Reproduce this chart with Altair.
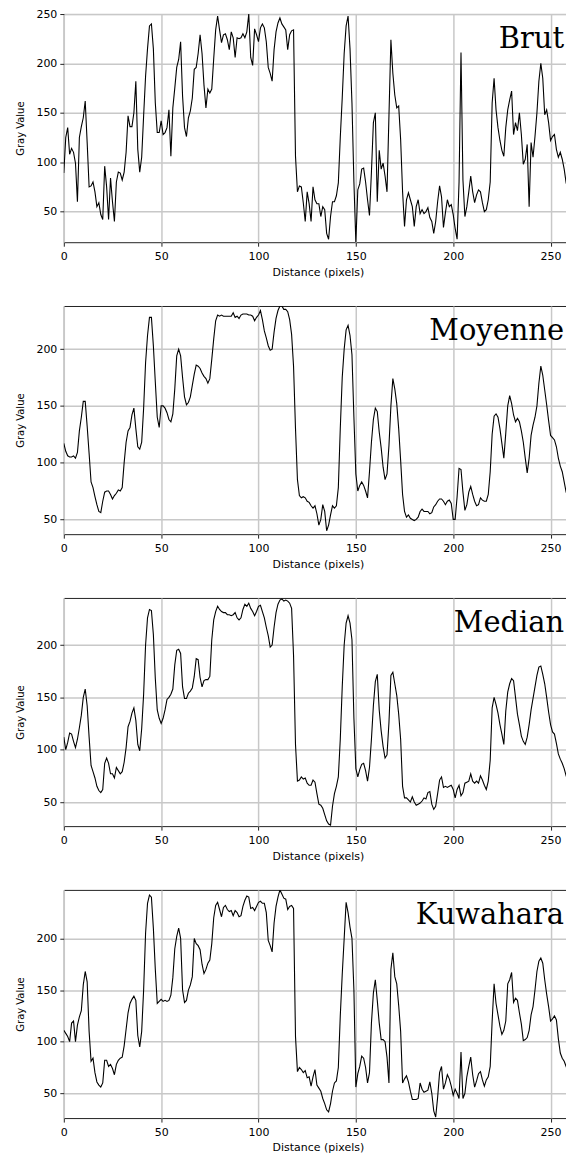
import altair as alt
import pandas as pd

TITLES = ["Brut", "Moyenne", "Median", "Kuwahara"]
X_TICKS = [0, 50, 100, 150, 200, 250]
Y_TICKS = [50, 100, 150, 200, 250]
X_DOMAIN = [0, 261]
Y_DOMAINS = [[19, 250], [37, 238], [27, 245], [26, 247]]

brut = [
    89, 125, 135, 108, 114, 110, 99, 60, 125, 136,
    145, 162, 120, 75, 76, 80, 70, 55, 59, 47,
    42, 96, 75, 42, 84, 60, 40, 80, 90, 89,
    82, 90, 110, 147, 136, 136, 150, 182, 113, 90,
    105, 147, 187, 215, 238, 240, 215, 160, 130, 130,
    142, 128, 130, 135, 153, 106, 155, 175, 196, 204,
    222, 167, 135, 126, 145, 152, 165, 194, 196, 210,
    229, 210, 178, 155, 174, 170, 174, 205, 234, 248,
    234, 221, 229, 230, 224, 214, 232, 226, 206, 226,
    225, 226, 230, 226, 232, 250, 206, 198, 235, 229,
    222, 236, 240, 236, 222, 196, 190, 182, 214, 232,
    241, 246, 240, 237, 234, 214, 229, 233, 234, 106,
    70, 76, 75, 59, 40, 70, 58, 40, 75, 62,
    58, 58, 45, 55, 52, 28, 22, 45, 60, 60,
    66, 79, 125, 165, 210, 238, 248, 215, 160, 80,
    19, 72, 78, 93, 94, 80, 62, 46, 90, 140,
    150, 60, 112, 93, 99, 86, 70, 147, 224, 190,
    168, 155, 157, 123, 70, 35, 62, 69, 62, 55,
    35, 55, 62, 48, 52, 48, 50, 54, 44, 40,
    28, 40, 60, 76, 65, 34, 49, 62, 55, 57,
    47, 33, 22, 80, 211, 82, 45, 55, 70, 86,
    70, 59, 67, 72, 70, 59, 50, 52, 62, 80,
    160, 185, 153, 135, 122, 112, 106, 135, 153, 163,
    172, 128, 140, 132, 150, 128, 98, 103, 118, 55,
    120, 105, 126, 150, 182, 200, 185, 148, 153, 140,
    122, 126, 128, 113, 105, 110, 103, 93, 79, 73,
    67, 56,
]

moyenne = [
    117, 110, 106, 105, 105, 106, 104, 109, 128, 140,
    154, 154, 132, 108, 83, 78, 70, 63, 57, 56,
    66, 74, 75, 75, 72, 68, 71, 73, 76, 75,
    78, 100, 118, 128, 131, 142, 148, 130, 114, 112,
    118, 148, 188, 212, 228, 228, 203, 171, 140, 131,
    150, 150, 148, 144, 138, 136, 143, 165, 194, 200,
    194, 175, 158, 151, 153, 158, 168, 178, 186, 185,
    183, 179, 176, 174, 170, 174, 191, 209, 225, 230,
    229, 230, 229, 229, 229, 229, 229, 232, 228, 229,
    227, 230, 231, 231, 231, 230, 230, 229, 225, 228,
    230, 234, 226, 216, 210, 203, 199, 200, 215, 227,
    234, 238, 238, 235, 235, 233, 226, 213, 185, 130,
    85, 71, 69, 70, 69, 66, 65, 62, 60, 62,
    55, 45, 50, 63, 57, 40, 45, 54, 62, 60,
    62, 78, 130, 175, 200, 217, 221, 212, 195, 140,
    90, 75, 80, 83, 80, 75, 69, 92, 118, 138,
    148, 145, 127, 113, 96, 85, 90, 115, 150, 174,
    165, 152, 130, 102, 72, 57, 52, 54, 51, 50,
    49, 50, 52, 57, 59, 57, 57, 57, 55, 56,
    61, 63, 66, 68, 68, 66, 63, 66, 67, 64,
    50, 50, 70, 95, 94, 74, 58, 63, 74, 79,
    72, 66, 62, 63, 69, 67, 66, 66, 72, 92,
    125, 141, 143, 140, 130, 117, 104, 126, 150, 159,
    152, 142, 136, 139, 136, 128, 118, 104, 91, 104,
    124, 133, 140, 150, 170, 185, 177, 164, 151, 137,
    124, 122, 120, 114, 104, 97, 92, 83, 74, 70,
    70, 75,
]

median = [
    112, 100, 107, 116, 115, 108, 102, 110, 121, 133,
    150, 158, 142, 112, 85, 79, 73, 65, 61, 59,
    62, 87, 92, 87, 77, 77, 73, 83, 80, 77,
    79, 88, 102, 122, 127, 135, 140, 128, 105, 99,
    120, 153, 200, 226, 234, 233, 210, 168, 138, 130,
    125, 130, 138, 148, 150, 153, 158, 181, 195, 196,
    192, 160, 149, 149, 154, 156, 159, 170, 187, 186,
    169, 160, 166, 167, 167, 170, 205, 224, 232, 237,
    234, 232, 231, 231, 229, 229, 228, 229, 231, 226,
    224, 226, 234, 239, 237, 240, 235, 232, 228, 232,
    237, 238, 232, 226, 217, 209, 198, 200, 217, 231,
    239, 243, 244, 242, 243, 242, 240, 235, 190, 105,
    70, 71, 74, 72, 73, 68, 66, 66, 71, 69,
    58, 48, 47, 44, 38, 32, 29, 28, 46, 58,
    65, 74, 110, 160, 200, 221, 228, 221, 205, 130,
    82, 74, 81, 86, 87, 80, 70, 83, 110, 142,
    165, 172, 138, 118, 103, 92, 95, 126, 171, 174,
    163, 152, 134, 110, 65, 54, 54, 52, 50, 55,
    50, 47, 48, 49, 51, 54, 53, 59, 60, 48,
    43, 46, 58, 71, 74, 64, 65, 64, 65, 66,
    62, 54, 62, 66, 56, 59, 68, 69, 70, 77,
    70, 68, 70, 68, 75, 71, 66, 62, 70, 90,
    140, 150, 143, 135, 124, 115, 105, 137, 155, 163,
    168, 166, 150, 134, 124, 113, 108, 105, 112, 124,
    138, 149, 160, 171, 179, 180, 172, 163, 150, 136,
    124, 117, 115, 106, 96, 91, 87, 82, 75, 71,
    71, 72,
]

kuwahara = [
    111, 108, 105, 100, 118, 120, 100, 116, 124, 130,
    155, 168, 158, 110, 81, 84, 70, 61, 58, 56,
    60, 82, 82, 76, 78, 74, 68, 78, 82, 84,
    85, 96, 112, 128, 137, 141, 144, 140, 106, 95,
    110, 150, 205, 234, 242, 240, 210, 170, 137, 139,
    141, 139, 140, 139, 140, 145, 162, 190, 202, 210,
    200, 150, 138, 140, 150, 155, 163, 200, 195, 193,
    189, 175, 166, 170, 176, 179, 195, 220, 232, 235,
    228, 221, 230, 232, 228, 226, 227, 222, 227, 225,
    221, 222, 231, 237, 241, 240, 229, 230, 227, 231,
    235, 236, 234, 234, 225, 198, 193, 187, 215, 231,
    240, 247, 243, 239, 238, 228, 231, 232, 229, 105,
    71, 75, 73, 70, 72, 65, 66, 57, 66, 73,
    58, 55, 52, 45, 40, 34, 32, 40, 52, 60,
    62, 75, 125, 165, 200, 235, 225, 211, 200, 150,
    56, 69, 76, 86, 84, 75, 60, 70, 118, 147,
    160, 140, 118, 102, 102, 100, 85, 60, 170, 186,
    163, 156, 135, 110, 60, 64, 67, 61, 52, 44,
    44, 44, 45, 60, 54, 51, 52, 53, 61, 50,
    33, 27, 46, 70, 76, 54, 60, 68, 64, 57,
    48, 54, 50, 45, 90, 45, 50, 66, 76, 85,
    68, 56, 62, 69, 71, 63, 57, 63, 66, 76,
    120, 156, 137, 126, 115, 107, 111, 120, 156, 160,
    167, 138, 142, 140, 128, 117, 101, 102, 104, 111,
    126, 134, 150, 168, 178, 181, 176, 160, 146, 134,
    120, 122, 125, 121, 103, 89, 84, 81, 76, 71,
    69, 64,
]

SERIES = [brut, moyenne, median, kuwahara]

W, H = 510, 229


def panel(title, values, ydom):
    df = pd.DataFrame({"x": list(range(len(values))), "y": values})
    yticks = [t for t in Y_TICKS if ydom[0] <= t <= ydom[1]]
    line = alt.Chart(df).mark_line(color="#000000", strokeWidth=1.1, clip=True).encode(
        x=alt.X(
            "x:Q",
            scale=alt.Scale(domain=X_DOMAIN, nice=False, zero=False),
            axis=alt.Axis(
                values=X_TICKS, title="Distance (pixels)", labelFlush=False,
                tickSize=4, labelPadding=4, titlePadding=5, titleFontSize=11,
            ),
        ),
        y=alt.Y(
            "y:Q",
            scale=alt.Scale(domain=ydom, nice=False, zero=False),
            axis=alt.Axis(
                values=yticks, title="Gray Value", tickSize=4, labelPadding=3,
                titlePadding=10, titleFontSize=10,
            ),
        ),
    )
    label = alt.Chart(pd.DataFrame({"t": [title]})).mark_text(
        font="DejaVu Serif", fontSize=29, align="right", baseline="alphabetic", color="#000000"
    ).encode(x=alt.value(W - 8), y=alt.value(34), text="t:N")
    return alt.layer(line, label).properties(width=W, height=H)


panels = [panel(t, s, d) for t, s, d in zip(TITLES, SERIES, Y_DOMAINS)]

# The svg must stay within the 558px-wide page container (else it is shrunk);
# the right end of the plot is cut at the page edge, as in the reference.
chart = alt.vconcat(*panels, spacing=27).properties(
    padding={"left": 7, "top": -3, "right": -7, "bottom": 0}
).configure_view(
    stroke="#222222", strokeWidth=1
).configure_axis(
    grid=True, gridColor="#c8c8c8", gridWidth=1.5, domain=False,
    tickColor="#222222", labelFont="DejaVu Sans", labelFontSize=11, labelColor="#000000",
    titleFont="DejaVu Sans", titleFontWeight="normal", titleColor="#000000",
)

chart.save("out.html", embed_options={"renderer": "svg", "actions": False})
